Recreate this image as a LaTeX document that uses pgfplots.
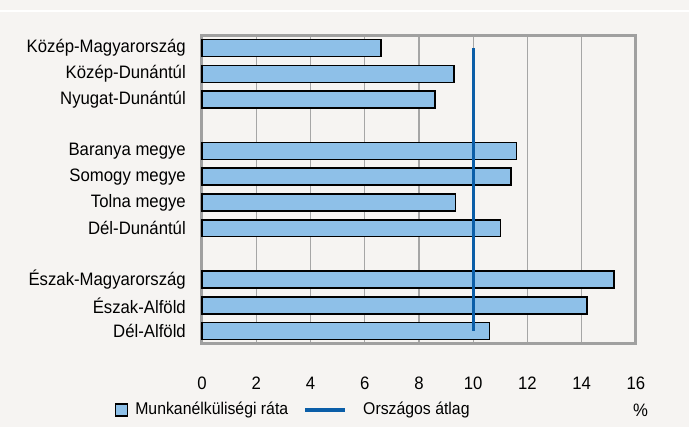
\documentclass[border=0pt]{standalone}
\usepackage{fontspec}
\setmainfont{Liberation Sans}[FakeStretch=0.93]
\usepackage{pgfplots}
\pgfplotsset{compat=1.18}

\definecolor{bgcol}{HTML}{F6F4F2}
\definecolor{barblue}{HTML}{8EC0E8}
\definecolor{avgblue}{HTML}{0B5EA8}
\definecolor{gridgray}{HTML}{A6A6A6}
\definecolor{framegray}{HTML}{A0A0A0}

\begin{document}
\fontsize{18pt}{21pt}\selectfont
\begin{tikzpicture}
\fill[bgcol] (-202pt,-83pt) rectangle (487pt,344pt);
\draw[white, line width=2pt] (-202pt,333pt) -- (487pt,333pt);
\begin{axis}[
  scale only axis,
  width=434pt, height=308pt,
  at={(0,0)}, anchor=south west,
  clip=false,
  xmin=0, xmax=16,
  ymin=-0.47, ymax=11.5,
  y dir=reverse,
  xtick={0,2,...,16},
  ytick={0,1,2,4,5,6,7,9,10,11},
  yticklabels={Közép-Magyarország,Közép-Dunántúl,Nyugat-Dunántúl,
    Baranya megye,Somogy megye,Tolna megye,Dél-Dunántúl,
    Észak-Magyarország,Észak-Alföld,Dél-Alföld},
  major tick length=0pt,
  xmajorgrids=true,
  grid style={gridgray, line width=1.2pt},
  axis line style={framegray, line width=3pt},
  xticklabel style={anchor=center, yshift=-39pt},
  yticklabel style={anchor=east, xshift=-10pt},
  tick label style={font=\fontsize{18pt}{21pt}\selectfont},
  /pgf/number format/assume math mode=true,
  legend style={draw=none, fill=none, at={(-0.202,-0.214)}, anchor=west,
    legend columns=2, inner sep=0pt,
    font=\fontsize{17pt}{20pt}\selectfont,
    /tikz/every even column/.append style={column sep=13pt}},
]
\addplot[xbar, bar width=0.66, fill=barblue, draw=black, line width=1.6pt,
  legend image code/.code={%
    \draw[fill=barblue, draw=black, line width=1.6pt] (0pt,-6pt) rectangle (12pt,6pt);
    \path[draw=none, fill=none] (0pt,0pt) -- (18pt,0pt);}]
  coordinates {
  (6.6,0) (9.3,1) (8.6,2)
  (11.6,4) (11.4,5) (9.35,6) (11.0,7)
  (15.2,9) (14.2,10) (10.6,11)};
\addplot[avgblue, line width=2.6pt,
  legend image code/.code={%
    \draw[avgblue, line width=4pt] (0pt,0pt) -- (40pt,0pt);
    \path[draw=none, fill=none] (0pt,0pt) -- (56pt,0pt);}]
  coordinates {(10,0) (10,11)};
\legend{Munkanélküliségi ráta, Országos átlag}
\node at (axis description cs:1.0104,-0.214) {\%};
\end{axis}
\pgfresetboundingbox
\path (-202pt,-83pt) rectangle (487pt,344pt);
\end{tikzpicture}
\end{document}
